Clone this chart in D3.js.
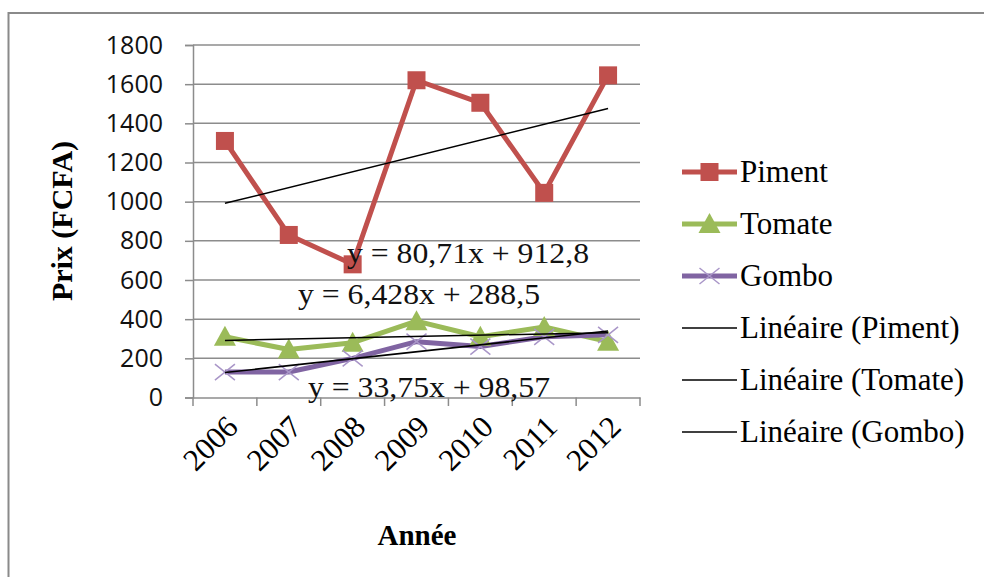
<!DOCTYPE html>
<html><head><meta charset="utf-8">
<script src="https://cdn.jsdelivr.net/npm/d3@7"></script>
<style>html,body{margin:0;padding:0;background:#fff;}svg{display:block;}</style>
</head><body>
<svg id="c" width="984" height="577"></svg>
<script>
const years = ["2006","2007","2008","2009","2010","2011","2012"];
const piment = [1310, 830, 680, 1620, 1505, 1045, 1645];
const tomate = [310, 245, 280, 390, 310, 360, 285];
const gombo = [130, 130, 200, 285, 260, 310, 320];
const seriesNames = ["Piment","Tomate","Gombo"];
const trendNames = ["Linéaire (Piment)","Linéaire (Tomate)","Linéaire (Gombo)"];
const equations = ["y = 80,71x + 912,8","y = 6,428x + 288,5","y = 33,75x + 98,57"];
const yTicks = [0,200,400,600,800,1000,1200,1400,1600,1800];

const colors = ["#C0504D","#9BBB59","#8064A2"];
const serif = "'Liberation Serif','Times New Roman',serif";
const svg = d3.select("#c");

// chart border
svg.append("path").attr("d","M8.5,577 L8.5,13 L984,13").attr("fill","none").attr("stroke","#8a8a8a").attr("stroke-width",2);

const x = d3.scaleBand().domain(years).range([193,640]);
const y = d3.scaleLinear().domain([0,1800]).range([397.5,45]);
const cx = d => x(d) + x.bandwidth()/2;

// gridlines
svg.append("g").selectAll("line").data(yTicks.filter(t=>t>0)).join("line")
  .attr("x1",193).attr("x2",640).attr("y1",d=>y(d)).attr("y2",d=>y(d))
  .attr("stroke","#8c8c8c").attr("stroke-width",1.5);

// y axis
const yAxis = svg.append("g").attr("transform","translate(193,0)")
  .call(d3.axisLeft(y).tickValues(yTicks).tickFormat(d3.format("d")).tickSize(8).tickPadding(22));
yAxis.select(".domain").attr("stroke","#8c8c8c").attr("stroke-width",1.5);
yAxis.selectAll(".tick line").attr("stroke","#8c8c8c").attr("stroke-width",1.5);
yAxis.selectAll("text").attr("font-family","'Open Sans','Liberation Sans',sans-serif").attr("font-size",25).attr("fill","#111");

// x axis
const xAxis = svg.append("g").attr("transform","translate(0,397.5)")
  .call(d3.axisBottom(x).tickSize(0).tickFormat(""));
xAxis.select(".domain").attr("stroke","#8c8c8c").attr("stroke-width",1.5);
const bounds = years.map(d=>x(d)).concat([640]);
svg.append("g").selectAll("line").data(bounds).join("line")
  .attr("x1",d=>d).attr("x2",d=>d).attr("y1",397.5).attr("y2",406)
  .attr("stroke","#8c8c8c").attr("stroke-width",1.5);
svg.append("g").selectAll("text").data(years).join("text")
  .attr("transform",d=>`translate(${cx(d)+7},${421}) rotate(-45)`)
  .attr("text-anchor","end").attr("dy","0.35em")
  .attr("font-family",serif).attr("font-size",31).attr("fill","#000").text(d=>d);

// axis titles
svg.append("text").attr("x",417).attr("y",545).attr("text-anchor","middle")
  .attr("font-family",serif).attr("font-weight","bold").attr("font-size",29).text("Année");
svg.append("text").attr("transform","translate(72,221) rotate(-90)").attr("text-anchor","middle")
  .attr("font-family",serif).attr("font-weight","bold").attr("font-size",30).text("Prix (FCFA)");

const allSeries = [piment, tomate, gombo];
const line = d3.line().x((d,i)=>cx(years[i])).y(d=>y(d));

// series lines
allSeries.forEach((s,k)=>{
  svg.append("path").datum(s).attr("d",line).attr("fill","none")
    .attr("stroke",colors[k]).attr("stroke-width",5).attr("stroke-linejoin","round");
});

function marker(g, k, px, py){
  if(k===0){
    g.append("rect").attr("x",px-9).attr("y",py-9).attr("width",18).attr("height",18).attr("fill",colors[0]);
  } else if(k===1){
    g.append("path").attr("d",`M${px},${py-11} L${px+11},${py+9} L${px-11},${py+9} Z`).attr("fill",colors[1]);
  } else {
    g.append("path").attr("d",`M${px-10},${py-8} L${px+10},${py+8} M${px-10},${py+8} L${px+10},${py-8}`)
      .attr("stroke","#a996c8").attr("stroke-width",1.5).attr("fill","none");
  }
}
allSeries.forEach((s,k)=>{
  const g = svg.append("g");
  s.forEach((v,i)=>marker(g,k,cx(years[i]),y(v)));
});

// linear trends (least squares, x = 1..n)
function fit(s){
  const xs=s.map((_,i)=>i+1);
  const mx=d3.mean(xs), my=d3.mean(s);
  const b=d3.sum(xs.map((xv,i)=>(xv-mx)*(s[i]-my)))/d3.sum(xs.map(xv=>(xv-mx)*(xv-mx)));
  return {a:my-b*mx,b};
}
allSeries.forEach(s=>{
  const f=fit(s);
  svg.append("line").attr("x1",cx(years[0])).attr("x2",cx(years[years.length-1]))
    .attr("y1",y(f.a+f.b*1)).attr("y2",y(f.a+f.b*years.length))
    .attr("stroke","#000").attr("stroke-width",1.5);
});

// equation labels
const eqPos = [[347,263],[298,304],[308,397]];
equations.forEach((t,i)=>{
  svg.append("text").attr("x",eqPos[i][0]).attr("y",eqPos[i][1])
    .attr("font-family",serif).attr("font-size",30).attr("fill","#111")
    .attr("textLength",242).attr("lengthAdjust","spacingAndGlyphs").text(t);
});

// legend
const legNames = seriesNames.concat(trendNames);
const lg = svg.append("g");
legNames.forEach((n,i)=>{
  const ly = 172 + i*52;
  if(i<3){
    lg.append("line").attr("x1",682).attr("x2",737).attr("y1",ly).attr("y2",ly)
      .attr("stroke",colors[i]).attr("stroke-width",5);
    marker(lg,i,709.5,ly);
  } else {
    lg.append("line").attr("x1",682).attr("x2",737).attr("y1",ly).attr("y2",ly)
      .attr("stroke","#000").attr("stroke-width",1.5);
  }
  lg.append("text").attr("x",740).attr("y",ly).attr("dy","0.33em")
    .attr("font-family",serif).attr("font-size",31).attr("fill","#000").text(n);
});
</script>
</body></html>
